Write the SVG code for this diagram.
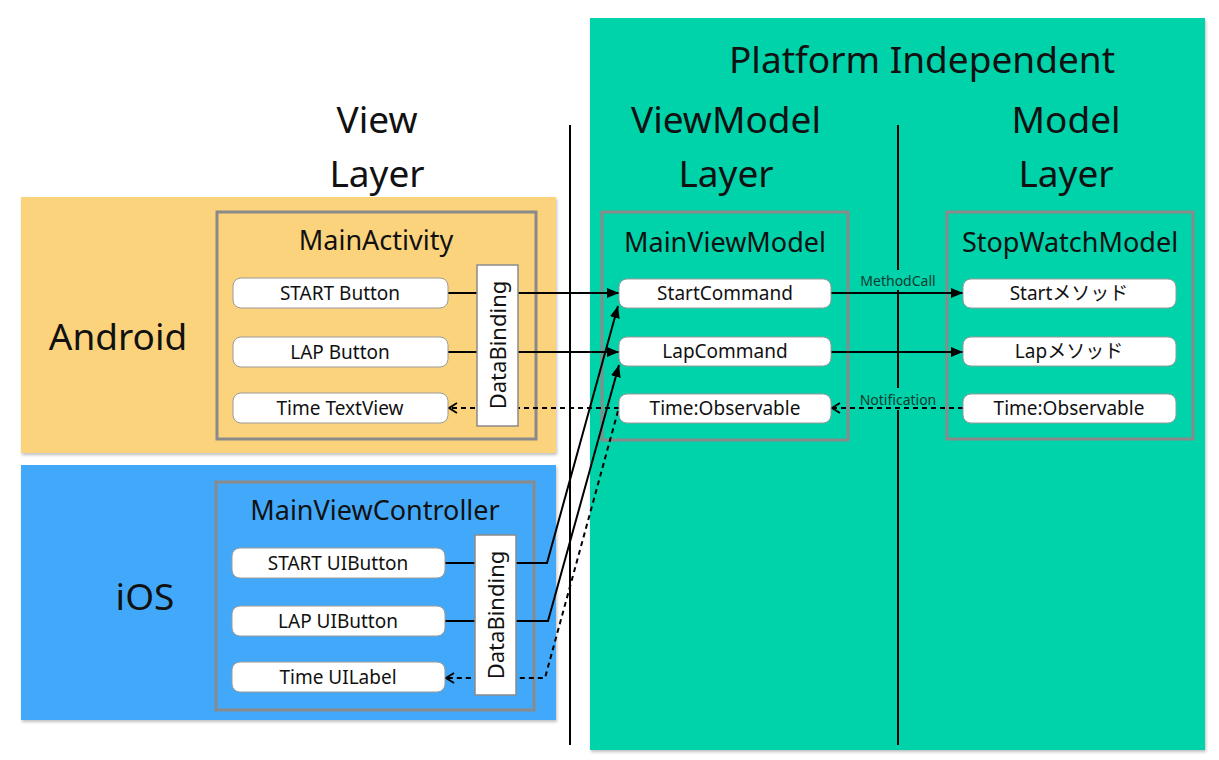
<svg xmlns="http://www.w3.org/2000/svg" width="1219" height="760" viewBox="0 0 1219 760">
<style>
text{font-family:"Noto Sans","Noto Sans CJK JP",sans-serif;fill:#111;text-anchor:middle;dominant-baseline:central}
.h{font-size:37px}
.t{font-size:27px}
.r{font-size:22px}
.b{font-size:19px}
.s{font-size:14px;fill:#0d3b30}
.box{fill:none;stroke:#8a8a8a;stroke-width:3}
.w{fill:#fff;stroke:#9a9a9a;stroke-width:1}
.c{fill:none;stroke:#000;stroke-width:2}
.d{fill:none;stroke:#000;stroke-width:2;stroke-dasharray:5 4}
.v{stroke:#000;stroke-width:2}
</style>
<defs>
<marker id="a" viewBox="0 0 12 10" refX="12" refY="5" markerWidth="12" markerHeight="10" markerUnits="userSpaceOnUse" orient="auto"><path d="M0,0 L12,5 L0,10 Z" fill="#000"/></marker>
<marker id="o" viewBox="0 0 10 12" refX="9" refY="6" markerWidth="10" markerHeight="12" markerUnits="userSpaceOnUse" orient="auto"><path d="M1,1 L9,6 L1,11" fill="none" stroke="#000" stroke-width="2"/></marker>
<filter id="sh" x="-5%" y="-5%" width="110%" height="110%"><feDropShadow dx="1" dy="2" stdDeviation="1.5" flood-color="#000" flood-opacity="0.25"/></filter>
</defs>
<rect width="1219" height="760" fill="#fff"/>
<g id="bg-android"><rect x="21" y="197" width="535" height="256" fill="#FCD37D" filter="url(#sh)"/><text class="h" x="118" y="335">Android</text></g>
<g id="bg-ios"><rect x="21" y="465" width="535" height="255" fill="#42A9FA" filter="url(#sh)"/><text class="h" x="145" y="595">iOS</text></g>
<g id="bg-platform"><rect x="590" y="18" width="615" height="732" fill="#00D2AA" filter="url(#sh)"/><text class="h" x="922" y="58">Platform Independent</text></g>
<g id="headers">
<text class="h" x="377" y="118">View</text><text class="h" x="377" y="172">Layer</text>
<text class="h" x="726" y="118">ViewModel</text><text class="h" x="726" y="172">Layer</text>
<text class="h" x="1066" y="118">Model</text><text class="h" x="1066" y="172">Layer</text>
</g>
<g id="dividers"><line class="v" x1="570" y1="125" x2="570" y2="745"/><line class="v" x1="898" y1="125" x2="898" y2="745"/></g>
<g id="MainActivity"><rect class="box" x="217" y="212" width="319" height="227"/><text class="t" x="376" y="239">MainActivity</text></g>
<g id="MainViewController"><rect class="box" x="216" y="482" width="318" height="228"/><text class="t" x="375" y="509">MainViewController</text></g>
<g id="MainViewModel"><rect class="box" x="602" y="212" width="246" height="228"/><text class="t" x="725" y="241">MainViewModel</text></g>
<g id="StopWatchModel"><rect class="box" x="947" y="212" width="246" height="227"/><text class="t" x="1070" y="241">StopWatchModel</text></g>
<g id="connectors">
<rect x="855" y="270" width="86" height="20" fill="#00D2AA"/>
<rect x="855" y="388" width="86" height="22" fill="#00D2AA"/>
<text class="s" x="898" y="280">MethodCall</text>
<text class="s" x="898" y="399">Notification</text>
<path class="c" d="M448,293 H619" marker-end="url(#a)"/>
<path class="c" d="M448,352 H619" marker-end="url(#a)"/>
<path class="d" d="M619,408 H449" marker-end="url(#o)"/>
<path class="c" d="M445,563 H547 L618,306" marker-end="url(#a)"/>
<path class="c" d="M445,621 H548 L619,365" marker-end="url(#a)"/>
<path class="d" d="M618,411 L545,678 H446" marker-end="url(#o)"/>
<path class="c" d="M831,293 H963" marker-end="url(#a)"/>
<path class="c" d="M831,352 H963" marker-end="url(#a)"/>
<path class="d" d="M963,408 H832" marker-end="url(#o)"/>
</g>
<g id="start-button"><rect class="w" x="233" y="278" width="215" height="30" rx="8"/><text class="b" x="340" y="293">START Button</text></g>
<g id="lap-button"><rect class="w" x="233" y="337" width="215" height="30" rx="8"/><text class="b" x="340" y="352">LAP Button</text></g>
<g id="time-textview"><rect class="w" x="233" y="393" width="215" height="30" rx="8"/><text class="b" x="340" y="408">Time TextView</text></g>
<g id="databinding-android"><rect x="477" y="265" width="41" height="161" fill="#fff" stroke="#8a8a8a" stroke-width="1.5"/><text class="r" x="497" y="345" transform="rotate(-90 497 345)">DataBinding</text></g>
<g id="start-uibutton"><rect class="w" x="232" y="548" width="213" height="30" rx="8"/><text class="b" x="338" y="563">START UIButton</text></g>
<g id="lap-uibutton"><rect class="w" x="232" y="606" width="213" height="30" rx="8"/><text class="b" x="338" y="621">LAP UIButton</text></g>
<g id="time-uilabel"><rect class="w" x="232" y="662" width="213" height="30" rx="8"/><text class="b" x="338" y="677">Time UILabel</text></g>
<g id="databinding-ios"><rect x="475" y="535" width="41" height="160" fill="#fff" stroke="#8a8a8a" stroke-width="1.5"/><text class="r" x="495" y="615" transform="rotate(-90 495 615)">DataBinding</text></g>
<g id="start-command"><rect class="w" x="619" y="279" width="212" height="29" rx="8"/><text class="b" x="725" y="293">StartCommand</text></g>
<g id="lap-command"><rect class="w" x="619" y="337" width="212" height="29" rx="8"/><text class="b" x="725" y="351">LapCommand</text></g>
<g id="vm-time"><rect class="w" x="619" y="394" width="212" height="29" rx="8"/><text class="b" x="725" y="408">Time:Observable</text></g>
<g id="start-method"><rect class="w" x="963" y="279" width="213" height="29" rx="8"/><text class="b" x="1069" y="293">Startメソッド</text></g>
<g id="lap-method"><rect class="w" x="963" y="337" width="213" height="29" rx="8"/><text class="b" x="1069" y="351">Lapメソッド</text></g>
<g id="model-time"><rect class="w" x="963" y="394" width="213" height="29" rx="8"/><text class="b" x="1069" y="408">Time:Observable</text></g>
</svg>
